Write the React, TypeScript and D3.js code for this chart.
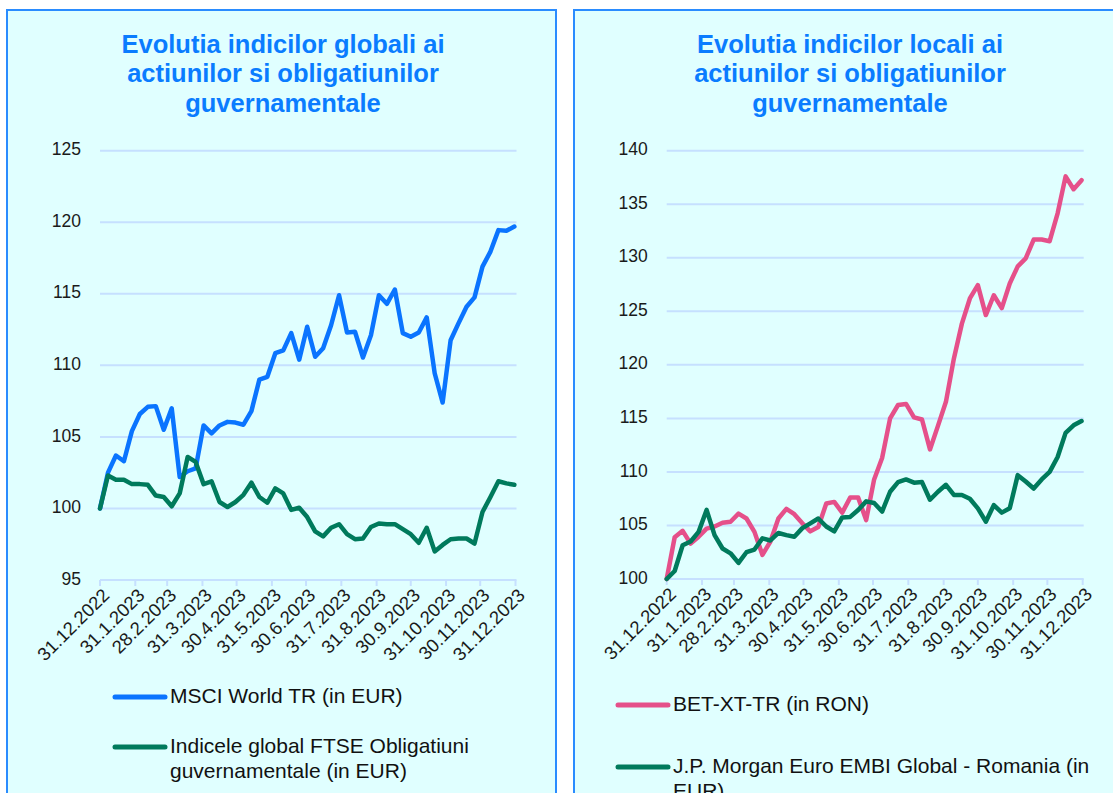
import React from "react";
import * as d3 from "d3";

const dates = [
  "2022-12-31", "2023-01-07", "2023-01-14", "2023-01-21", "2023-01-28", "2023-02-04", "2023-02-11", "2023-02-18", "2023-02-25",
  "2023-03-04", "2023-03-11", "2023-03-18", "2023-03-25", "2023-04-01", "2023-04-08", "2023-04-15", "2023-04-22", "2023-04-29",
  "2023-05-06", "2023-05-13", "2023-05-20", "2023-05-27", "2023-06-03", "2023-06-10", "2023-06-17", "2023-06-24",
  "2023-07-01", "2023-07-08", "2023-07-15", "2023-07-22", "2023-07-29", "2023-08-05", "2023-08-12", "2023-08-19", "2023-08-26",
  "2023-09-02", "2023-09-09", "2023-09-16", "2023-09-23", "2023-09-30", "2023-10-07", "2023-10-14", "2023-10-21", "2023-10-28",
  "2023-11-04", "2023-11-11", "2023-11-18", "2023-11-25", "2023-12-02", "2023-12-09", "2023-12-16", "2023-12-23", "2023-12-30",
];

const tickDates = [
  "2022-12-31", "2023-01-31", "2023-02-28", "2023-03-31", "2023-04-30", "2023-05-31", "2023-06-30",
  "2023-07-31", "2023-08-31", "2023-09-30", "2023-10-31", "2023-11-30", "2023-12-31",
];
const tickLabels = [
  "31.12.2022", "31.1.2023", "28.2.2023", "31.3.2023", "30.4.2023", "31.5.2023", "30.6.2023",
  "31.7.2023", "31.8.2023", "30.9.2023", "31.10.2023", "30.11.2023", "31.12.2023",
];

const msciWorld = [100, 102.5, 103.7, 103.3, 105.4, 106.6, 107.1, 107.15, 105.5, 107.0, 102.2, 102.6, 102.8, 105.8, 105.25, 105.8, 106.05, 106.0, 105.85, 106.8, 109.0, 109.2, 110.85, 111.05, 112.25, 110.4, 112.7, 110.6, 111.2, 112.8, 114.9, 112.3, 112.35, 110.55, 112.1, 114.9, 114.3, 115.3, 112.25, 112.0, 112.3, 113.35, 109.45, 107.4, 111.75, 112.95, 114.1, 114.75, 116.9, 117.95, 119.45, 119.4, 119.7];
const ftseGov = [100, 102.3, 102.0, 102.0, 101.7, 101.7, 101.65, 100.9, 100.8, 100.15, 101.05, 103.6, 103.25, 101.7, 101.9, 100.45, 100.1, 100.45, 100.95, 101.8, 100.8, 100.4, 101.4, 101.05, 99.9, 100.05, 99.4, 98.4, 98.05, 98.65, 98.9, 98.2, 97.85, 97.9, 98.7, 98.95, 98.9, 98.9, 98.55, 98.2, 97.6, 98.65, 97.0, 97.45, 97.85, 97.9, 97.9, 97.55, 99.75, 100.8, 101.9, 101.75, 101.65];
const betXtTr = [100, 103.9, 104.5, 103.3, 103.95, 104.7, 104.9, 105.25, 105.35, 106.1, 105.65, 104.4, 102.25, 103.5, 105.65, 106.55, 106.05, 105.2, 104.45, 104.85, 107.05, 107.2, 106.2, 107.6, 107.6, 105.5, 109.3, 111.3, 115.0, 116.25, 116.35, 115.1, 114.9, 112.1, 114.3, 116.55, 120.6, 123.85, 126.2, 127.45, 124.65, 126.5, 125.3, 127.6, 129.2, 129.95, 131.7, 131.7, 131.55, 134.15, 137.6, 136.4, 137.25];
const jpmEmbi = [100, 100.75, 103.15, 103.5, 104.4, 106.45, 104.1, 102.85, 102.4, 101.5, 102.5, 102.75, 103.8, 103.6, 104.3, 104.1, 103.95, 104.75, 105.2, 105.65, 104.9, 104.45, 105.75, 105.8, 106.45, 107.25, 107.1, 106.3, 108.15, 109.05, 109.3, 109.0, 109.05, 107.4, 108.15, 108.8, 107.85, 107.85, 107.5, 106.6, 105.35, 106.9, 106.2, 106.6, 109.7, 109.1, 108.45, 109.3, 110.0, 111.4, 113.65, 114.35, 114.75];

const leftTicks = [95, 100, 105, 110, 115, 120, 125];
const rightTicks = [100, 105, 110, 115, 120, 125, 130, 135, 140];

const leftTitle = ["Evolutia indicilor globali ai", "actiunilor si obligatiunilor", "guvernamentale"];
const rightTitle = ["Evolutia indicilor locali ai", "actiunilor si obligatiunilor", "guvernamentale"];

const leftLegend = [["MSCI World TR (in EUR)"], ["Indicele global FTSE Obligatiuni", "guvernamentale (in EUR)"]];
const rightLegend = [["BET-XT-TR (in RON)"], ["J.P. Morgan Euro EMBI Global - Romania (in", "EUR)"]];

const BLUE = "#0a74ff";
const GREEN = "#007a5c";
const PINK = "#e5508a";
const GRID = "#c6e0ff";
const FONT = "'Liberation Sans', Arial, sans-serif";

const parse = d3.timeParse("%Y-%m-%d");

type PanelProps = {
  px: number; pw: number;
  x0: number; x1: number; yTop: number; yBot: number;
  domain: [number, number]; ticks: number[];
  title: string[]; titleCx: number;
  series: { values: number[]; color: string }[];
  legend: string[][]; legendX: number; legendYs: number[];
};

function Panel(p: PanelProps) {
  const x = d3.scaleTime().domain([parse(tickDates[0])!, parse(tickDates[tickDates.length - 1])!]).range([p.x0, p.x1]);
  const y = d3.scaleLinear().domain(p.domain).range([p.yBot, p.yTop]);
  const line = d3.line<number>().x((_, i) => x(parse(dates[i])!)).y((d) => y(d));
  return (
    <g>
      <rect x={p.px} y={10} width={p.pw} height={800} fill="#e0ffff" stroke="#2a8cff" strokeWidth={2} />
      {p.title.map((t, i) => (
        <text key={i} x={p.titleCx} y={46 + i * 29.5} textAnchor="middle" dominantBaseline="middle"
          fontFamily={FONT} fontWeight="bold" fontSize={25.5} fill="#0a7cff">{t}</text>
      ))}
      {p.ticks.map((t) => (
        <g key={t}>
          <line x1={p.x0} x2={p.x1 + 1} y1={y(t)} y2={y(t)} stroke={GRID} strokeWidth={2} />
          <text x={p.x0 - 19} y={y(t)} textAnchor="end" dominantBaseline="middle" fontFamily={FONT} fontSize={17.5} fill="#1a1a1a">{t}</text>
        </g>
      ))}
      {tickDates.map((d, i) => {
        const tx = x(parse(d)!);
        return (
          <g key={d}>
            <line x1={tx} x2={tx} y1={p.yBot} y2={p.yBot + 6} stroke={GRID} strokeWidth={2} />
            <text transform={`translate(${tx + 7},${p.yBot + 13}) rotate(-45)`} textAnchor="end" dominantBaseline="middle"
              fontFamily={FONT} fontSize={18.5} fill="#1a1a1a">{tickLabels[i]}</text>
          </g>
        );
      })}
      {p.series.map((s, i) => (
        <path key={i} d={line(s.values)!} fill="none" stroke={s.color} strokeWidth={4.5} strokeLinejoin="round" strokeLinecap="round" />
      ))}
      {p.legend.map((lines, i) => (
        <g key={i}>
          <line x1={p.legendX - 55} x2={p.legendX - 5} y1={p.legendYs[i]} y2={p.legendYs[i]} stroke={p.series[i].color} strokeWidth={5} strokeLinecap="round" />
          {lines.map((t, j) => (
            <text key={j} x={p.legendX} y={p.legendYs[i] + j * 25} dominantBaseline="middle" fontFamily={FONT} fontSize={21} fill="#111">{t}</text>
          ))}
        </g>
      ))}
    </g>
  );
}

export default function App() {
  return (
    <svg width={1113} height={793} style={{ position: "absolute", left: 0, top: 0, display: "block", background: "#fff" }}>
      <Panel px={7} pw={549} x0={100} x1={515.5} yTop={150.7} yBot={580} domain={[95, 125]} ticks={leftTicks}
        title={leftTitle} titleCx={283}
        series={[{ values: msciWorld, color: BLUE }, { values: ftseGov, color: GREEN }]}
        legend={leftLegend} legendX={170} legendYs={[697, 747]} />
      <Panel px={574} pw={560} x0={666.7} x1={1082.7} yTop={150.7} yBot={579} domain={[100, 140]} ticks={rightTicks}
        title={rightTitle} titleCx={850}
        series={[{ values: betXtTr, color: PINK }, { values: jpmEmbi, color: GREEN }]}
        legend={rightLegend} legendX={673} legendYs={[705, 767]} />
    </svg>
  );
}
